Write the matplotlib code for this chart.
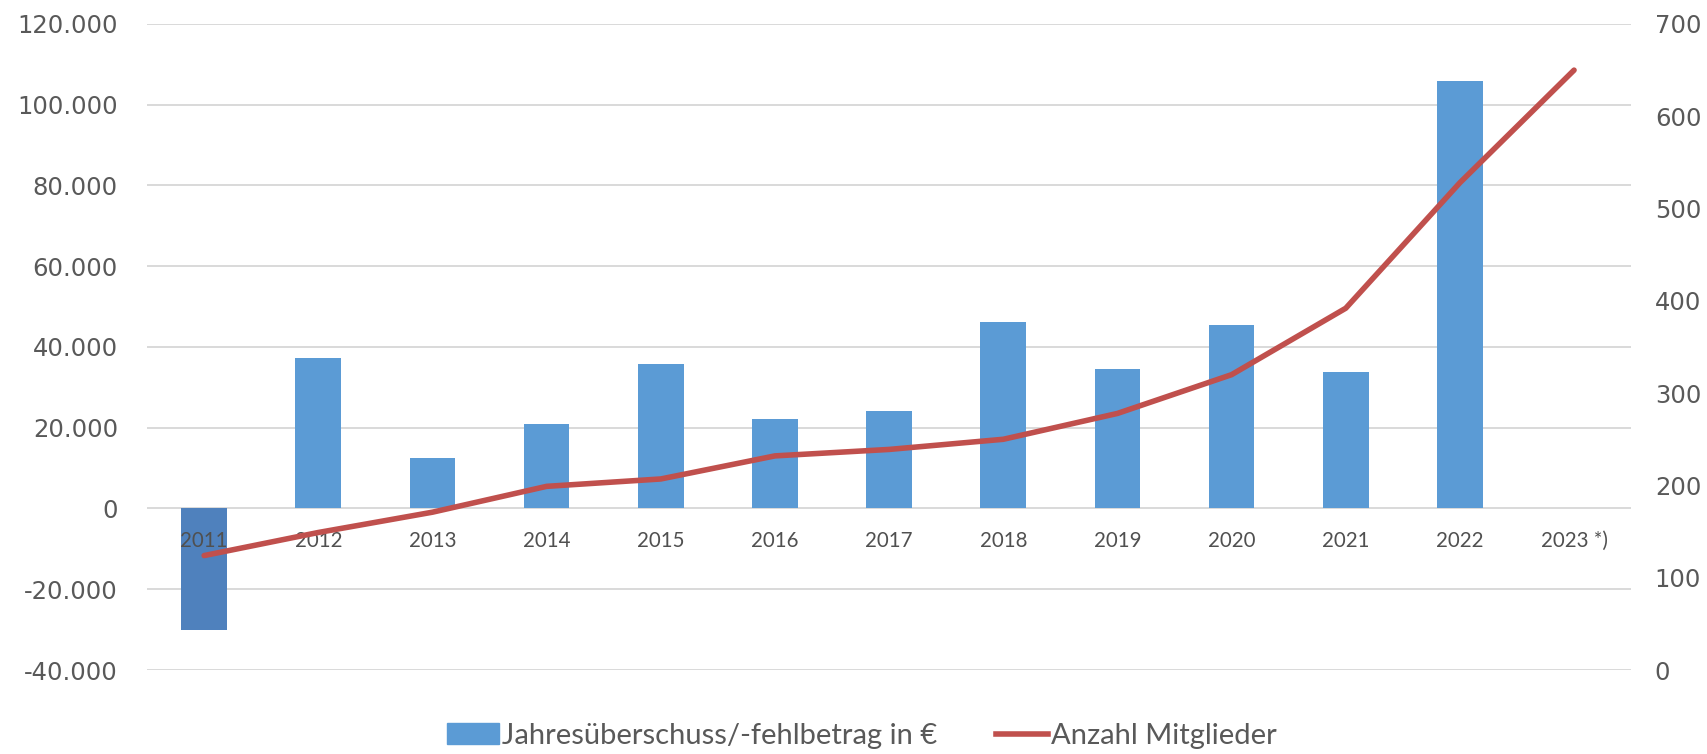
import numpy as np
import matplotlib
matplotlib.use("Agg")
import matplotlib.pyplot as plt
from matplotlib.ticker import FuncFormatter, MultipleLocator
from matplotlib.patches import Patch
from matplotlib.lines import Line2D

# data
years = ["2011", "2012", "2013", "2014", "2015", "2016", "2017",
         "2018", "2019", "2020", "2021", "2022", "2023 *)"]
ergebnis = [-30000, 37300, 12400, 21000, 35900, 22100, 24100,
            46300, 34600, 45500, 33900, 105900, np.nan]
mitglieder = [124, 149, 171, 199, 207, 232, 239, 250, 278, 320, 392, 528, 650]

BLUE = "#5B9BD5"
BLUE_DARK = "#4F81BD"
RED = "#C0504D"
GREY = "#595959"
CAT_FONT = "Lato"

fig = plt.figure(figsize=(17.08, 7.54), dpi=100)
ax = fig.add_axes([0.0861, 0.1114, 0.8689, 0.8568])
ax2 = ax.twinx()

x = np.arange(len(years))
colors = [BLUE_DARK if v < 0 else BLUE for v in ergebnis]
ax.bar(x, ergebnis, width=0.4, color=colors, zorder=2)

ax.set_xlim(-0.5, len(years) - 0.5)
ax.set_ylim(-40000, 120000)
ax.yaxis.set_major_locator(MultipleLocator(20000))
ax.yaxis.set_major_formatter(FuncFormatter(lambda v, p: f"{int(v):,}".replace(",", ".")))
ax.set_axisbelow(True)
ax.yaxis.grid(True, color="#D9D9D9", lw=1.4)
ax.set_xticks([])
ax.tick_params(axis="y", length=0, pad=21, labelsize=17.5, labelcolor=GREY)

# category labels sit just below the zero line
for xi, yr in zip(x, years):
    ax.annotate(yr, (xi, 0), xytext=(0, -23.5), textcoords="offset points",
                ha="center", va="center", fontsize=14.8, color="#505050",
                family=CAT_FONT, zorder=3)

ax2.plot(x, mitglieder, color=RED, lw=4, solid_capstyle="round",
         solid_joinstyle="round")
ax2.set_ylim(0, 700)
ax2.yaxis.set_major_locator(MultipleLocator(100))
ax2.tick_params(axis="y", length=0, pad=17, labelsize=17.5, labelcolor=GREY)

for a in (ax, ax2):
    for s in a.spines.values():
        s.set_visible(False)

handles = [Patch(color=BLUE), Line2D([], [], color=RED, lw=4)]
labels = ["Jahresüberschuss/-fehlbetrag in €", "Anzahl Mitglieder"]
fig.legend(handles, labels, loc="center", bbox_to_anchor=(862 / 1708, 0.024),
           ncol=2, frameon=False, handlelength=1.8, handletextpad=0.1,
           columnspacing=2.0, prop={"family": CAT_FONT, "size": 21},
           labelcolor=GREY)

fig.savefig("out.png", dpi=100)
